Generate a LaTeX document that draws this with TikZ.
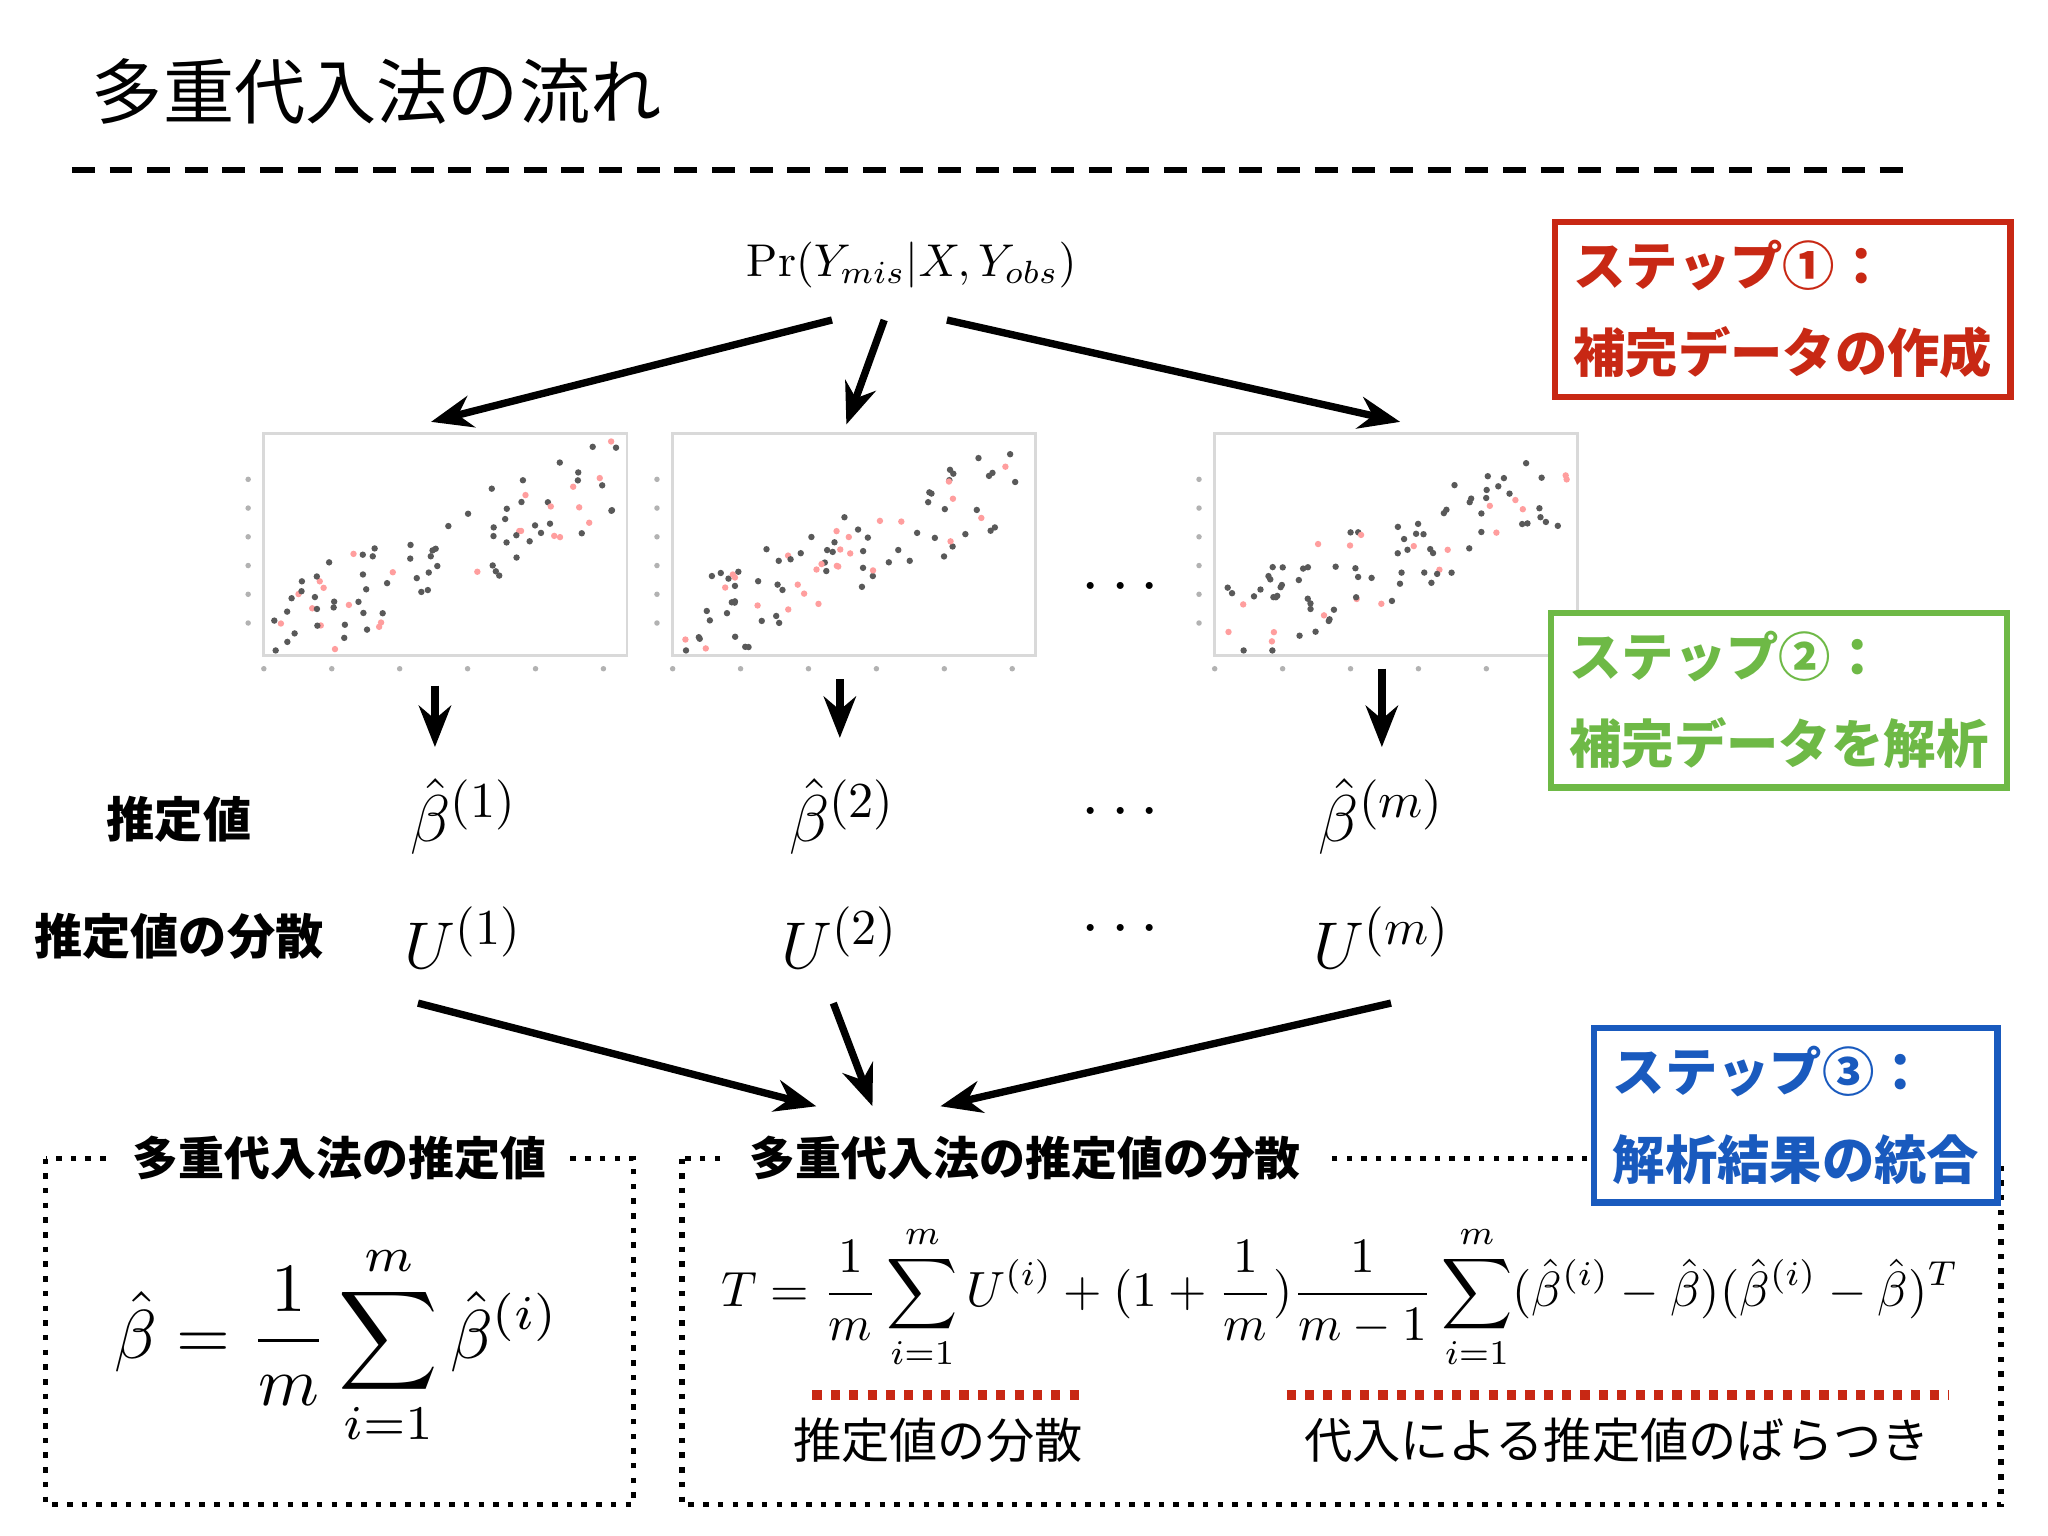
\documentclass[tikz,border=0pt]{standalone}
\usepackage{fontspec}
\usepackage{amsmath,graphicx}
\usetikzlibrary{arrows.meta}
\newfontfamily\jp{Noto Sans CJK JP}
\definecolor{sred}{RGB}{200,40,20}
\definecolor{sgreen}{RGB}{110,185,70}
\definecolor{sblue}{RGB}{25,90,190}
\begin{document}
\begin{tikzpicture}[x=0.01cm,y=-0.01cm,
  arr/.style={-{Stealth[length=9pt,width=7pt]},line width=1.6pt},
  stepbox/.style={draw,line width=1.4pt,fill=white,align=left,font=\jp\bfseries\fontsize{11.4}{19}\selectfont,inner sep=4pt},
  lab/.style={font=\jp\bfseries\fontsize{10}{12}\selectfont},
  dbox/.style={draw,dotted,line width=1.2pt},
  plotbox/.style={draw=gray!30,line width=0.6pt}]
\useasboundingbox (0,0) rectangle (1568,1176);
\node[anchor=west,font=\jp\fontsize{15.5}{18}\selectfont] (title) at (58,70) {多重代入法の流れ};
\draw[line width=1.3pt,dash pattern=on 5pt off 3.2pt] (55,130) coordinate (d1) -- (1462,130) coordinate (d2);
\node[stepbox,text=sred,draw=sred] (s1) at (1365,237) {ステップ①：\\補完データの作成};
\node (pr) at (698,203) {\fontsize{10}{12}\selectfont $\mathrm{Pr}(Y_{mis}|X,Y_{obs})$};
% plots
\pgfmathsetseed{7}
\foreach \px/\nm in {202/p1,515/p2,930/p3}{
  \begin{scope}[shift={(\px,332)}]
  \draw[plotbox] (0,0) rectangle (278,170);
  \node[inner sep=0] (\nm) at (139,85) {};
  \foreach \t in {0,...,5}{\fill[gray!60] (-12,{145-\t*22}) circle (0.6pt); \fill[gray!60] ({\t*52},180) circle (0.6pt);}
  \foreach \i in {1,...,90}{
    \pgfmathsetmacro\xx{8+262*rnd}
    \pgfmathsetmacro\yy{max(6,min(166,155-0.45*\xx-35*rand))}
    \pgfmathsetmacro\cc{rnd}
    \ifdim\cc pt<0.3pt \fill[pink!70!red!80] (\xx,\yy) circle (0.7pt);
    \else \fill[black!65] (\xx,\yy) circle (0.7pt); \fi
  }
  \end{scope}}
\node (e1) at (862,450) {\fontsize{14}{14}\selectfont$\cdots$};
\node[coordinate] (pa1) at (330,323) {};
\node[coordinate] (pa2) at (648,325) {};
\node[coordinate] (pa3) at (1072,323) {};
\draw[arr] (637,245) -- (pa1);
\draw[arr] (677,245) -- (pa2);
\draw[arr] (725,245) -- (pa3);
\node[stepbox,text=sgreen,draw=sgreen] (s2) at (1362,536) {ステップ②：\\補完データを解析};
% estimates
\node[lab,font=\jp\bfseries\fontsize{10.5}{12}\selectfont] (l1) at (137,627) {推定値};
\node[lab,font=\jp\bfseries\fontsize{10.5}{12}\selectfont] (l2) at (137,717) {推定値の分散};
\node (b1) at (355,625) {\fontsize{15}{15}\selectfont$\hat\beta^{(1)}$};
\node (b2) at (645,625) {\fontsize{15}{15}\selectfont$\hat\beta^{(2)}$};
\node (b3) at (1058,625) {\fontsize{15}{15}\selectfont$\hat\beta^{(m)}$};
\node (u1) at (355,718) {\fontsize{15}{15}\selectfont$U^{(1)}$};
\node (u2) at (643,718) {\fontsize{15}{15}\selectfont$U^{(2)}$};
\node (u3) at (1058,718) {\fontsize{15}{15}\selectfont$U^{(m)}$};
\node (e2) at (862,622) {\fontsize{14}{14}\selectfont$\cdots$};
\node (e3) at (862,712) {\fontsize{14}{14}\selectfont$\cdots$};
\draw[arr] (333,525) -- (333,572);
\draw[arr] (643,520) -- (643,565);
\draw[arr] (1058,512) -- (1058,572);
\node[coordinate] (m1) at (625,847) {};
\node[coordinate] (m2) at (668,847) {};
\node[coordinate] (m3) at (720,847) {};
\draw[arr] (320,768) -- (m1);
\draw[arr] (638,768) -- (m2);
\draw[arr] (1065,768) -- (m3);
% bottom boxes
\draw[dbox] (35,887) rectangle (485,1152);
\draw[dbox] (522,887) rectangle (1532,1152);
\node[lab,fill=white,inner xsep=5pt] (bl1) at (260,887) {多重代入法の推定値};
\node[lab,fill=white,inner xsep=5pt] (bl2) at (785,887) {多重代入法の推定値の分散};
\node[stepbox,text=sblue,draw=sblue] (s3) at (1375,854) {ステップ③：\\解析結果の統合};
\node (f1) at (258,1030) {\resizebox{3.4cm}{!}{$\displaystyle\hat\beta=\frac{1}{m}\sum_{i=1}^{m}\hat\beta^{(i)}$}};
\node (f2) at (1026,993) {\resizebox{9.47cm}{!}{$\displaystyle T=\frac{1}{m}\sum_{i=1}^{m}U^{(i)}+(1+\frac{1}{m})\frac{1}{m-1}\sum_{i=1}^{m}(\hat\beta^{(i)}-\hat\beta)(\hat\beta^{(i)}-\hat\beta)^T$}};
\draw[sred,dotted,line width=2pt] (622,1068) -- (827,1068);
\draw[sred,dotted,line width=2pt] (985,1068) -- (1492,1068);
\node[font=\jp\fontsize{10.5}{12}\selectfont] (t1) at (718,1103) {推定値の分散};
\node[font=\jp\fontsize{10.5}{12}\selectfont] (t2) at (1238,1103) {代入による推定値のばらつき};
\end{tikzpicture}
\end{document}
